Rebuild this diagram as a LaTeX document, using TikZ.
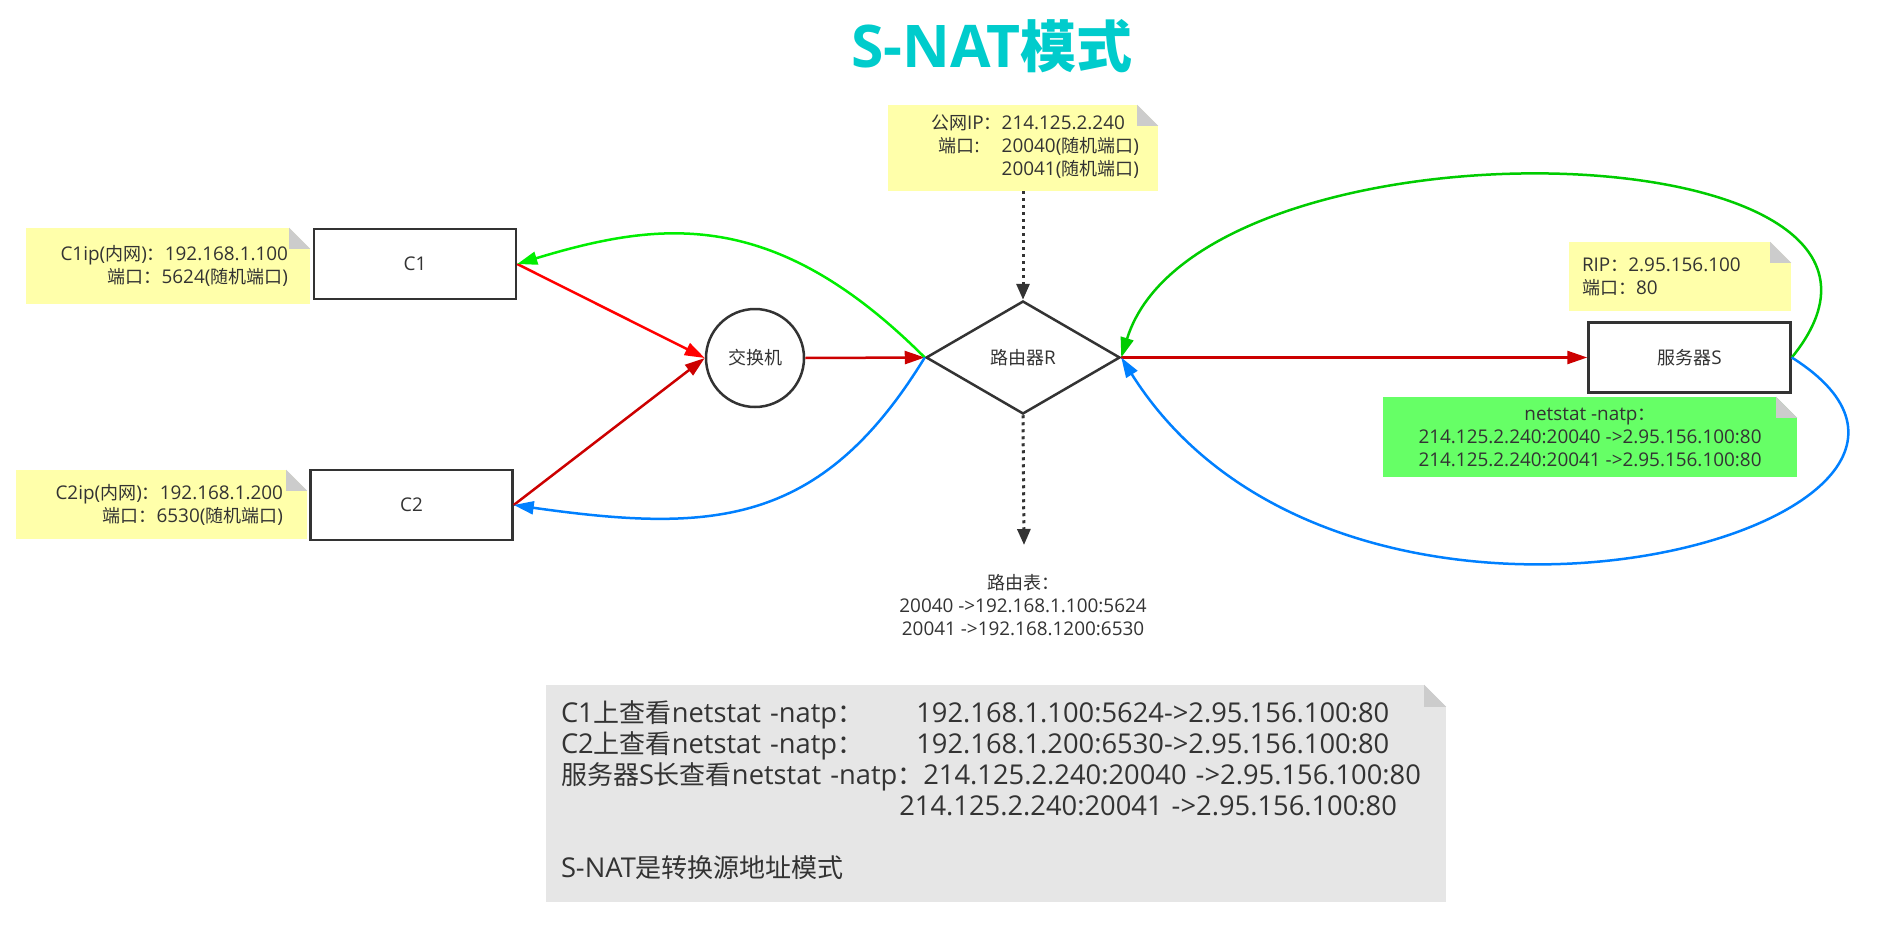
\documentclass[tikz,border=0pt]{standalone}
\usepackage{fontspec}
\setmainfont{Open Sans}[Scale=1.05]
\newfontfamily\zhfont{Noto Sans CJK SC}
\newcommand{\zh}[1]{{\zhfont #1}}
\usetikzlibrary{arrows.meta,shapes.geometric,calc}
\definecolor{LineClr}{HTML}{333333}
\definecolor{TitleClr}{HTML}{00CCCC}
\definecolor{NoteClr}{HTML}{FFFFAA}
\definecolor{NatClr}{HTML}{66FF66}
\definecolor{SumClr}{HTML}{E6E6E6}
\definecolor{FoldClr}{HTML}{CCCCCC}
\definecolor{ReqClr}{HTML}{FF0000}
\definecolor{FwdClr}{HTML}{CC0000}
\definecolor{AckClr}{HTML}{00EE00}
\definecolor{BackClr}{HTML}{00CC00}
\definecolor{RetClr}{HTML}{0080FF}
\newcommand{\nodefont}{\fontsize{18}{23}\selectfont}
\newcommand{\sumfont}{\fontsize{26}{30.8}\selectfont}
% folded corner of a note
\newcommand{\dogear}[2]{%
  \fill[white] (#1.north east) -- ++(-#2,0) -- ++(#2,#2) -- cycle;
  \fill[FoldClr] ($(#1.north east)+(-#2,0)$) -- ++(0,#2) -- ++(#2,0) -- cycle;
}

\begin{document}
\begin{tikzpicture}[x=1pt,y=-1pt,
  every node/.style={text=LineClr,font=\nodefont},
  nodebox/.style={draw=LineClr,line width=2.5pt,fill=white,minimum width=202pt,minimum height=70pt},
  hubnode/.style={circle,draw=LineClr,line width=2.5pt,fill=white,minimum size=98pt,inner sep=0pt},
  gatenode/.style={diamond,draw=LineClr,line width=2.5pt,fill=white,aspect=1.72,minimum width=194pt,minimum height=113pt,inner sep=0pt},
  notebox/.style={fill=#1,inner ysep=0pt},
  flowline/.style={line width=2.5pt,-{Triangle[length=20pt,width=13pt]}},
  dotline/.style={LineClr,line width=3pt,dash pattern=on 3pt off 4pt,-{Triangle[length=16pt,width=13pt]}}]
\fill[white] (0,0) rectangle (1879,931);
\useasboundingbox (0,0) rectangle (1879,931);

\node[font=\fontsize{56}{60}\selectfont\bfseries,text=TitleClr] (title) at (992,46) {S-NAT\zh{模式}};

% notes
\node[notebox=NoteClr,minimum height=76pt,inner xsep=22pt,text width=240pt,align=right] (c1note) at (168,266)
  {C1ip(\zh{内网})\zh{：}192.168.1.100\\\zh{端口：}5624(\zh{随机端口})};
\node[notebox=NoteClr,minimum height=69pt,inner xsep=24pt,text width=243pt,align=right] (c2note) at (161.5,504.5)
  {C2ip(\zh{内网})\zh{：}192.168.1.200\\\zh{端口：}6530(\zh{随机端口})};
\node[notebox=NoteClr,minimum height=86pt,minimum width=270pt,inner xsep=0pt] (ipnote) at (1023,148)
  {\begin{tabular}{@{\hspace{24pt}}r@{}l@{}}
   \zh{公网}IP\zh{：} & 214.125.2.240\\
   \zh{端口}:\hspace{22pt} & 20040(\zh{随机端口})\\
   & 20041(\zh{随机端口})
   \end{tabular}};
\node[notebox=NoteClr,minimum height=69pt,inner xsep=13pt,text width=196pt,align=left] (rnote) at (1680,276.5)
  {RIP\zh{：}2.95.156.100\\\zh{端口：}80};
\node[notebox=NatClr,minimum height=80pt,minimum width=414pt,align=center] (snote) at (1590,437)
  {netstat -natp\zh{：}\\214.125.2.240:20040 ->2.95.156.100:80\\214.125.2.240:20041 ->2.95.156.100:80};
\node[notebox=SumClr,minimum height=217pt,inner xsep=15pt,text width=870pt,align=left,font=\sumfont] (sum) at (996,793.5)
  {\begin{tabular}{@{}l@{}l@{}}
   C1\zh{上查看}netstat -natp\zh{：} & \hspace{-7pt}192.168.1.100:5624->2.95.156.100:80\\
   C2\zh{上查看}netstat -natp\zh{：} & \hspace{-7pt}192.168.1.200:6530->2.95.156.100:80\\
   \zh{服务器}S\zh{长查看}netstat -natp\zh{：} & 214.125.2.240:20040 ->2.95.156.100:80\\
   & \hspace{-24pt}214.125.2.240:20041 ->2.95.156.100:80\\
   & \\
   \multicolumn{2}{@{}l@{}}{S-NAT\zh{是转换源地址模式}}
   \end{tabular}};
\dogear{c1note}{21}
\dogear{c2note}{21}
\dogear{ipnote}{21}
\dogear{rnote}{21}
\dogear{snote}{21}
\dogear{sum}{22}

\node[align=center] (rtable) at (1023,605)
  {\zh{路由表：}\\20040 ->192.168.1.100:5624\\20041 ->192.168.1200:6530};
\coordinate (rtop) at (1024,545);

% devices
\node[nodebox] (c1) at (415,264) {C1};
\node[nodebox] (c2) at (411.5,505) {C2};
\node[hubnode] (sw) at (755,358) {\zh{交换机}};
\node[gatenode] (r) at (1023,357.5) {\zh{路由器}R};
\node[nodebox] (s) at (1689.5,357.5) {\zh{服务器}S};

% requests
\draw[flowline,ReqClr] (c1.east) -- (sw.west);
\draw[flowline,FwdClr] (c2.east) -- (sw.west);
\draw[flowline,FwdClr] (sw.east) -- (r.west);
\draw[flowline,FwdClr] (r.east) -- (s.west);

% replies
\draw[flowline,BackClr] (s.east) .. controls +(189,-232) and +(78,-252) .. (r.east);
\draw[flowline,RetClr] (s.east) .. controls +(259,163) and +(228,362) .. (r.east);
\draw[flowline,AckClr] (r.west) .. controls +(-150,-150) and +(145,-44) .. (c1.east);
\draw[flowline,RetClr] (r.west) .. controls +(-104,170) and +(198,28) .. (c2.east);

\draw[dotline] (ipnote.south) -- (r.north);
\draw[dotline] (r.south) -- (rtop);

\end{tikzpicture}
\end{document}
